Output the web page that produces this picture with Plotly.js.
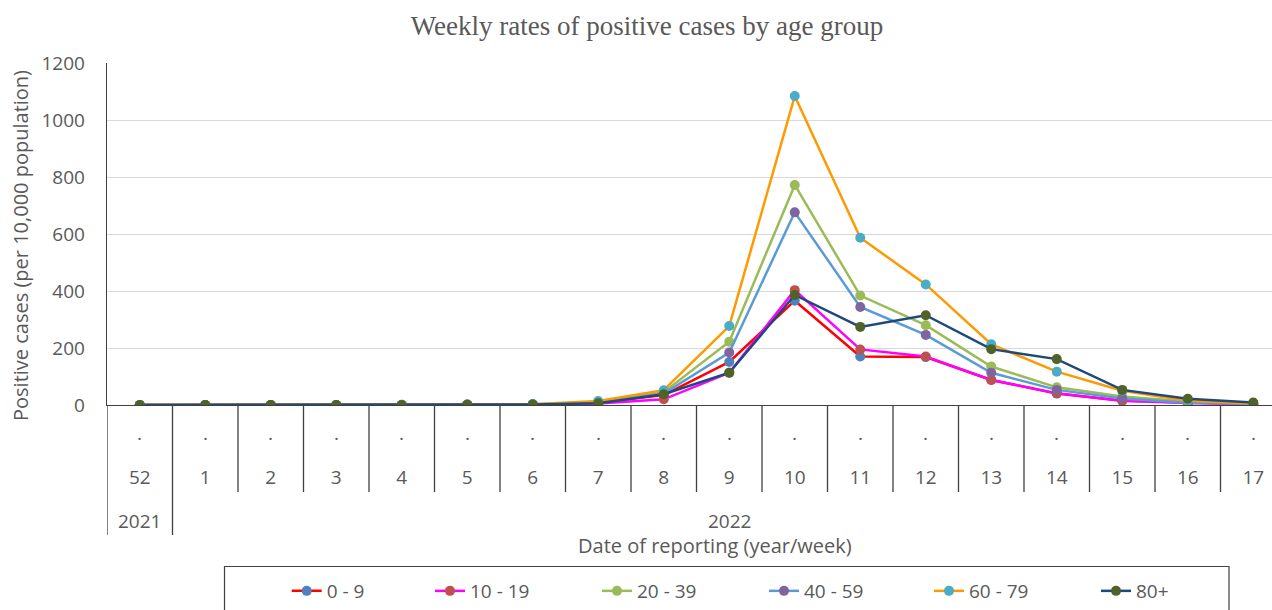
<!DOCTYPE html>
<html>
<head>
<meta charset="utf-8">
<script src="https://cdn.plot.ly/plotly-3.0.1.min.js"></script>
<style>
html,body{margin:0;padding:0;overflow:hidden;background:#fff;}
#chart{width:1300px;height:610px;}
</style>
</head>
<body>
<div id="chart"></div>
<script>
// ---- Data ----
var weeks = ['52','1','2','3','4','5','6','7','8','9','10','11','12','13','14','15','16','17'];
var years = ['2021','2022','2022','2022','2022','2022','2022','2022','2022','2022','2022','2022','2022','2022','2022','2022','2022','2022'];
var seriesNames = ['0 - 9','10 - 19','20 - 39','40 - 59','60 - 79','80+'];
var age0_9   = [0,0,0,0,0,1,2,8,35,151,366,170,168,88,40,15,8,3];
var age10_19 = [0,0,0,0,0,1,1,5,20,113,403,195,170,88,41,15,7,3];
var age20_39 = [0,0,0,0,1,2,3,10,45,222,772,384,280,135,62,30,12,5];
var age40_59 = [0,0,0,0,0,1,2,8,40,184,676,344,246,113,53,23,8,4];
var age60_79 = [0,0,0,0,1,2,3,14,52,277,1084,587,423,213,117,50,15,5];
var age80p   = [0,0,0,0,0,1,2,6,38,113,386,274,315,196,161,53,22,9];
var seriesValues = [age0_9, age10_19, age20_39, age40_59, age60_79, age80p];

// ---- Style ----
var lineColors   = ['#FF0000','#FF00FF','#9BBB59','#5B9BD5','#FF9900','#1F497D'];
var markerColors = ['#4F81BD','#C0504D','#9BBB59','#8064A2','#4BACC6','#4F6228'];
var legendMarkerPx = [306.7, 450, 617, 784, 949, 1116]; // legend entry positions (pixels)
var txt = '#595959';
var fnt = '"Open Sans", Lato, sans-serif';
var FIGW = 1300, FIGH = 610;

var xIdx = weeks.map(function(_, i){ return i; });

var traces = seriesNames.map(function(name, k){
  return {
    type: 'scatter', mode: 'lines+markers', name: name,
    x: xIdx, y: seriesValues[k],
    line: {color: lineColors[k], width: 2.5},
    marker: {color: markerColors[k], size: 10},
    legend: k === 0 ? 'legend' : 'legend' + (k + 1),
    hoverinfo: 'skip'
  };
});

var annotations = [];
var shapes = [];
// dots row
xIdx.forEach(function(i){
  annotations.push({xref:'x', yref:'paper', x:i, y:0, yshift:-28, text:'.', showarrow:false,
    font:{family:fnt, size:19, color:txt}, yanchor:'middle'});
});
// year group labels (centred on the group of categories)
var groups = [];
years.forEach(function(y, i){
  if (!groups.length || groups[groups.length-1].label !== y) groups.push({label:y, start:i, end:i});
  else groups[groups.length-1].end = i;
});
groups.forEach(function(g){
  annotations.push({xref:'x', yref:'paper', x:(g.start+g.end)/2, y:0, yshift:-116, text:g.label,
    showarrow:false, font:{family:fnt, size:19, color:txt}, yanchor:'middle'});
});
// dividers
for (var i = 0; i <= weeks.length; i++) {
  var isGroupEdge = (i === 0) || (i < weeks.length && years[i] !== years[i-1]);
  shapes.push({type:'line', xref:'x', yref:'paper', x0:i-0.5, x1:i-0.5, y0:0,
    y1: isGroupEdge ? -130/342 : -87/342, line:{color:'#404040', width:1.3}});
}
// legend frame
shapes.push({type:'rect', xref:'paper', yref:'paper', x0:(224.5-107)/1179, x1:(1229-107)/1179,
  y0:(405-640)/342, y1:(405-566.5)/342, line:{color:'#404040', width:1.2}, fillcolor:'rgba(0,0,0,0)'});
// axis titles
annotations.push({xref:'paper', yref:'paper', x:(715-107)/1179, y:0, yshift:-140,
  text:'Date of reporting (year/week)', showarrow:false, yanchor:'middle',
  font:{family:fnt, size:20, color:txt}});
annotations.push({xref:'paper', yref:'paper', x:(20-107)/1179, y:(405-246)/342,
  text:'Positive cases (per 10,000 population)', textangle:-90, showarrow:false,
  xanchor:'center', yanchor:'middle', font:{family:fnt, size:20, color:txt}});

var layout = {
  width: FIGW, height: FIGH,
  margin: {l:107, r:14, t:63, b:205, autoexpand:false},
  paper_bgcolor:'#fff', plot_bgcolor:'#fff',
  title: {text:'Weekly rates of positive cases by age group', xref:'container', x:647/FIGW,
    xanchor:'center', yref:'container', y:1-26/FIGH, yanchor:'middle',
    font:{family:'"Liberation Serif", "Times New Roman", serif', size:27, color:txt}},
  xaxis: {range:[-0.5, weeks.length-0.5], tickvals:xIdx, ticktext:weeks, showgrid:false,
    zeroline:false, showline:true, linecolor:'#404040', linewidth:1.3, ticks:'',
    ticklabelstandoff:55, tickfont:{family:fnt, size:19, color:txt}, fixedrange:true, automargin:false},
  yaxis: {range:[0,1200], dtick:200, showgrid:true, gridcolor:'#D9D9D9', gridwidth:1,
    zeroline:false, showline:true, linecolor:'#404040', linewidth:1.3, ticks:'',
    ticklabelstandoff:17, tickfont:{family:fnt, size:19, color:txt}, fixedrange:true, automargin:false},
  showlegend: true,
  annotations: annotations,
  shapes: shapes
};
legendMarkerPx.forEach(function(px, k){
  var key = k === 0 ? 'legend' : 'legend' + (k + 1);
  layout[key] = {orientation:'h', xref:'container', x:(px - 20)/FIGW, xanchor:'left',
    yref:'container', y:1 - 591/FIGH, yanchor:'middle', borderwidth:0, bgcolor:'rgba(0,0,0,0)',
    font:{family:fnt, size:19, color:txt}};
});

Plotly.newPlot('chart', traces, layout, {displayModeBar:false, staticPlot:true});
</script>
</body>
</html>
